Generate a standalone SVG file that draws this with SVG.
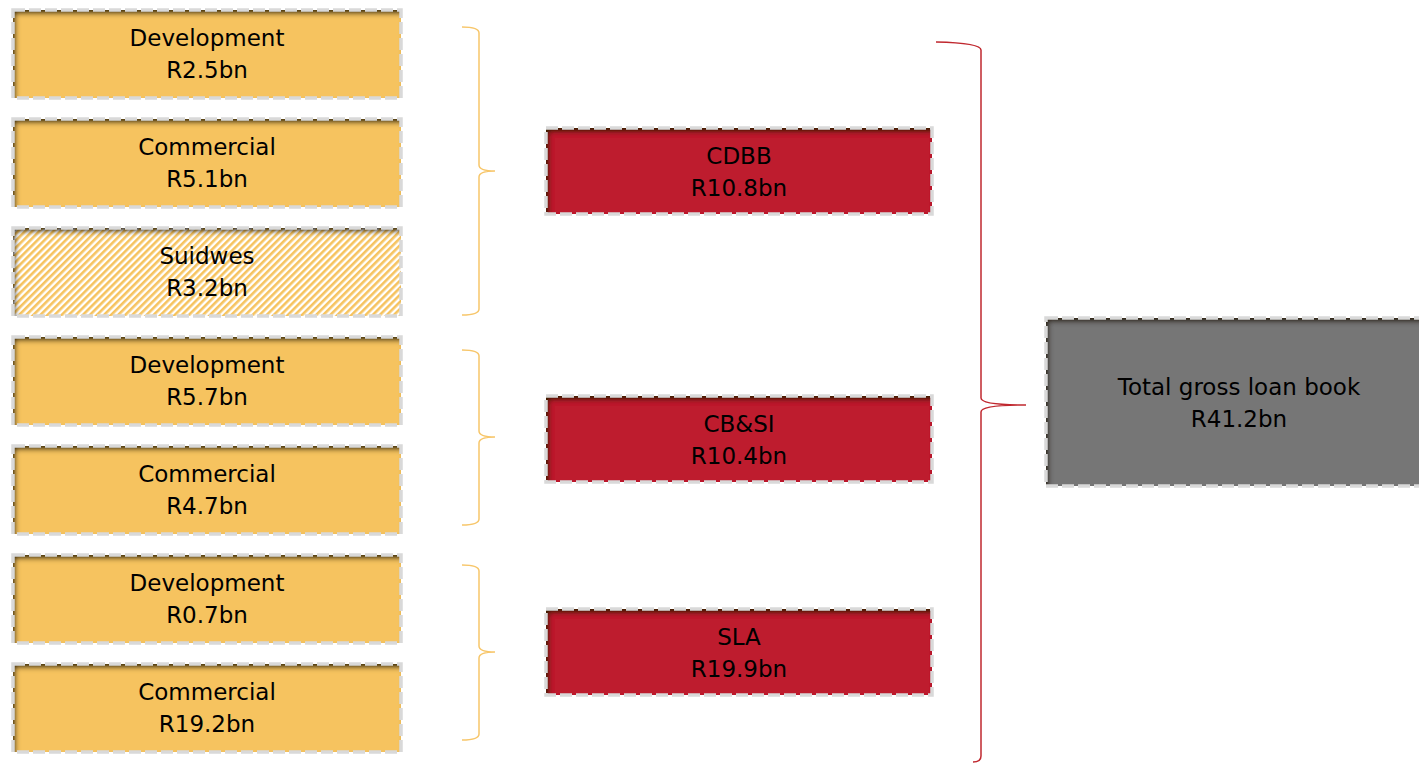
<svg xmlns="http://www.w3.org/2000/svg" width="1419" height="764" viewBox="0 0 1419 764">
<style>
.t{font-family:"DejaVu Sans","Liberation Sans",sans-serif;font-size:23px;fill:#000;text-anchor:middle}
.y{fill:#F6C35F;filter:url(#ins)}
.h{fill:url(#hatch);filter:url(#ins)}
.r{fill:#BE1E2D;filter:url(#ins)}
.g{fill:#767676;filter:url(#ins)}
.d{fill:none;stroke:#D9D9D9;stroke-width:3.5;stroke-dasharray:12 4}
.by{fill:none;stroke:#F7C66A;stroke-width:1.5}
.br{fill:none;stroke:#C0282F;stroke-width:1.5}
</style>
<defs>
<filter id="ins" x="-5%" y="-10%" width="110%" height="120%">
<feFlood flood-color="#2a1a00" flood-opacity="1" result="f"/>
<feComposite in="f" in2="SourceAlpha" operator="out" result="o"/>
<feGaussianBlur in="o" stdDeviation="2.5" result="b"/>
<feOffset in="b" dx="3" dy="4" result="ob"/>
<feComposite in="ob" in2="SourceAlpha" operator="in" result="sh"/>
<feMerge><feMergeNode in="SourceGraphic"/><feMergeNode in="sh"/></feMerge>
</filter>
<pattern id="hatch" patternUnits="userSpaceOnUse" width="5" height="5" patternTransform="rotate(45)">
<rect width="5" height="5" fill="#FFFFFF"/>
<rect width="2.6" height="5" fill="#F6C35F"/>
</pattern>
</defs>
<rect width="1419" height="764" fill="#FFFFFF"/>
<g id="connectors">
<path class="by" d="M462,27 Q479,27 479,33 V165 Q479,171 495,171 Q479,171 479,177 V309 Q479,315 462,315"/>
<path class="by" d="M462,350 Q479,350 479,356 V431 Q479,437 495,437 Q479,437 479,443 V519 Q479,525 462,525"/>
<path class="by" d="M462,565 Q479,565 479,571 V646 Q479,652 495,652 Q479,652 479,658 V734 Q479,740 462,740"/>
<path class="br" d="M936,42 Q981,43 981,50 V398 Q981,405 1026,405 Q981,405 981,412 V756 Q981,762 973,762"/>
</g>
<g id="n1"><rect class="y" x="13" y="10" width="388" height="88"/><rect class="d" x="13" y="10" width="388" height="88"/><text class="t" x="207" y="46">Development</text><text class="t" x="207" y="78">R2.5bn</text></g>
<g id="n2"><rect class="y" x="13" y="119" width="388" height="88"/><rect class="d" x="13" y="119" width="388" height="88"/><text class="t" x="207" y="155">Commercial</text><text class="t" x="207" y="187">R5.1bn</text></g>
<g id="n3"><rect class="h" x="13" y="228" width="388" height="88"/><rect class="d" x="13" y="228" width="388" height="88"/><text class="t" x="207" y="264">Suidwes</text><text class="t" x="207" y="296">R3.2bn</text></g>
<g id="n4"><rect class="y" x="13" y="337" width="388" height="88"/><rect class="d" x="13" y="337" width="388" height="88"/><text class="t" x="207" y="373">Development</text><text class="t" x="207" y="405">R5.7bn</text></g>
<g id="n5"><rect class="y" x="13" y="446" width="388" height="88"/><rect class="d" x="13" y="446" width="388" height="88"/><text class="t" x="207" y="482">Commercial</text><text class="t" x="207" y="514">R4.7bn</text></g>
<g id="n6"><rect class="y" x="13" y="555" width="388" height="88"/><rect class="d" x="13" y="555" width="388" height="88"/><text class="t" x="207" y="591">Development</text><text class="t" x="207" y="623">R0.7bn</text></g>
<g id="n7"><rect class="y" x="13" y="664" width="388" height="88"/><rect class="d" x="13" y="664" width="388" height="88"/><text class="t" x="207" y="700">Commercial</text><text class="t" x="207" y="732">R19.2bn</text></g>
<g id="cdbb"><rect class="r" x="546" y="128" width="386" height="86"/><rect class="d" x="546" y="128" width="386" height="86"/><text class="t" x="739" y="164">CDBB</text><text class="t" x="739" y="196">R10.8bn</text></g>
<g id="cbsi"><rect class="r" x="546" y="396" width="386" height="86"/><rect class="d" x="546" y="396" width="386" height="86"/><text class="t" x="739" y="432">CB&amp;SI</text><text class="t" x="739" y="464">R10.4bn</text></g>
<g id="sla"><rect class="r" x="546" y="609" width="386" height="86"/><rect class="d" x="546" y="609" width="386" height="86"/><text class="t" x="739" y="645">SLA</text><text class="t" x="739" y="677">R19.9bn</text></g>
<g id="total"><rect class="g" x="1046" y="318" width="386" height="168"/><rect class="d" x="1046" y="318" width="386" height="168"/><text class="t" x="1239" y="395">Total gross loan book</text><text class="t" x="1239" y="427">R41.2bn</text></g>
</svg>
